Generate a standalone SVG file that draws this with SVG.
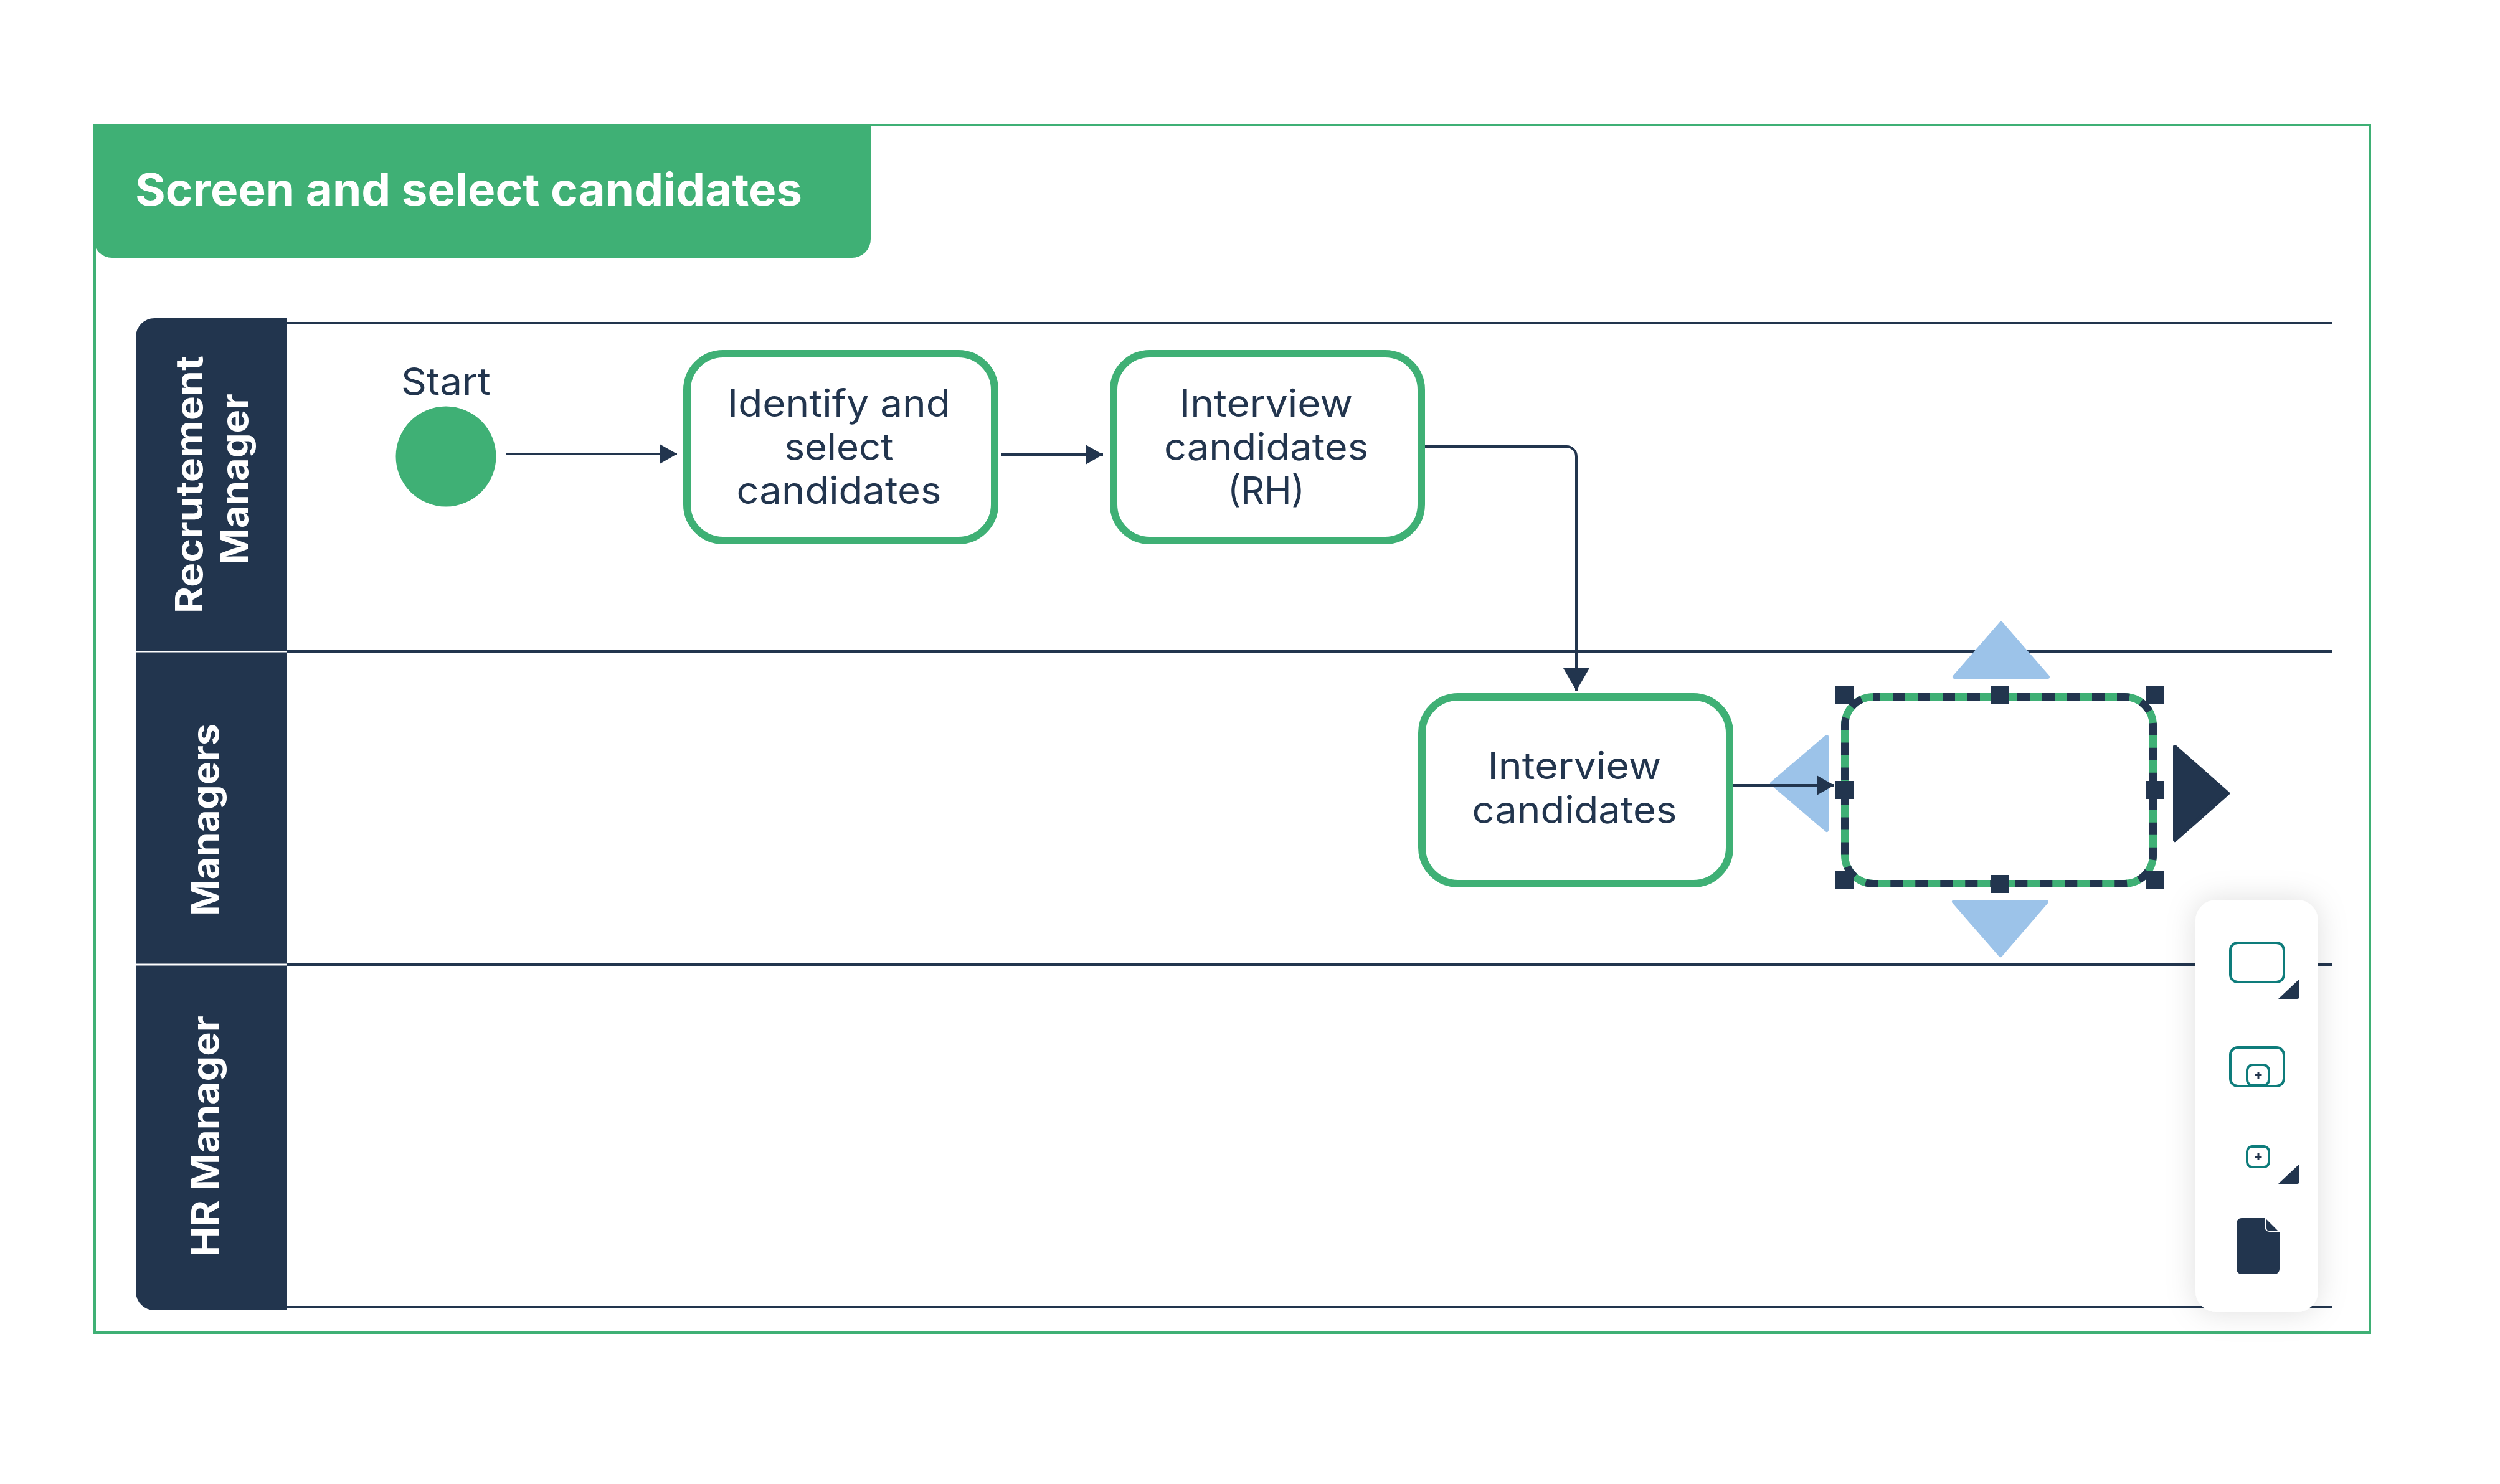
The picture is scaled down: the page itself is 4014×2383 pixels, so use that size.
<svg xmlns="http://www.w3.org/2000/svg" width="4014" height="2383" viewBox="0 0 4014 2383">
<defs>
<style>
text{font-family:"Inter","Open Sans","Liberation Sans",sans-serif}
.body{font-size:60px;fill:#22354E;text-anchor:middle;font-weight:400}
.lane{font-size:60px;fill:#fff;font-weight:700}
.lane-line{stroke:#22354E;stroke-width:4;fill:none}
.task{fill:#fff;stroke:#3FB075;stroke-width:12}
.conn{stroke:#22354E;stroke-width:4;fill:none}
.handle{fill:#22354E}
.blue{fill:#9CC3E9;stroke:#9CC3E9;stroke-width:6;stroke-linejoin:round}
.teal{fill:#fff;stroke:#0E7C7B;stroke-width:4}
.navy{fill:#22354E}
.plus{stroke:#22354E;stroke-width:3;fill:none}
</style>
<marker id="head" markerUnits="userSpaceOnUse" markerWidth="32" markerHeight="36" refX="28" refY="16" orient="auto" viewBox="0 0 32 36" overflow="visible"><path d="M0 0L28 16L0 32Z" fill="#22354E"/></marker>
<marker id="headBig" markerUnits="userSpaceOnUse" markerWidth="36" markerHeight="42" refX="36" refY="21" orient="auto" viewBox="0 0 36 42" overflow="visible"><path d="M0 0L36 21L0 42Z" fill="#22354E"/></marker>
<filter id="shadow" x="-40%" y="-20%" width="180%" height="140%"><feDropShadow dx="0" dy="0" stdDeviation="24" flood-color="#000" flood-opacity="0.13"/></filter>
</defs>
<rect width="4014" height="2383" fill="#fff"/>
<g id="frame"><rect x="152" y="201" width="3653" height="1939" fill="#fff" stroke="#3FB075" stroke-width="4"/></g>
<g id="title"><path d="M150 199H1398V384a30 30 0 0 1-30 30H180a30 30 0 0 1-30-30Z" fill="#3FB075"/>
<text x="217" y="330" font-size="72" font-weight="700" fill="#fff" textLength="1071" lengthAdjust="spacingAndGlyphs">Screen and select candidates</text></g>
<g id="lane-lines">
<path class="lane-line" d="M461 519H3745M461 1046H3745M461 1549H3745M461 2099H3745"/>
</g>
<g id="lane-recrutement"><path d="M461 511V1045H218V541a30 30 0 0 1 30-30Z" class="navy"/>
<text class="lane" transform="translate(325 985) rotate(-90)" textLength="414" lengthAdjust="spacingAndGlyphs">Recrutement</text>
<text class="lane" transform="translate(398 907) rotate(-90)" textLength="275" lengthAdjust="spacingAndGlyphs">Manager</text></g>
<g id="lane-managers"><rect x="218" y="1047.500" width="243" height="500" class="navy"/>
<text class="lane" transform="translate(351 1471) rotate(-90)" textLength="309" lengthAdjust="spacingAndGlyphs">Managers</text></g>
<g id="lane-hr"><path d="M218 1550.500H461V2104H248a30 30 0 0 1-30-30Z" class="navy"/>
<text class="lane" transform="translate(351 2018) rotate(-90)" textLength="387" lengthAdjust="spacingAndGlyphs">HR Manager</text></g>
<g id="start"><circle cx="716" cy="733" r="80.500" fill="#3FB075"/>
<text class="body" x="716" y="634" textLength="144" lengthAdjust="spacingAndGlyphs">Start</text></g>
<g id="task-identify"><rect class="task" x="1103" y="568" width="494" height="300" rx="58"/>
<text class="body" x="1347" y="669" textLength="358" lengthAdjust="spacingAndGlyphs">Identify and</text>
<text class="body" x="1347" y="739" textLength="175" lengthAdjust="spacingAndGlyphs">select</text>
<text class="body" x="1347" y="809" textLength="329" lengthAdjust="spacingAndGlyphs">candidates</text></g>
<g id="task-interview-rh"><rect class="task" x="1788" y="568" width="494" height="300" rx="58"/>
<text class="body" x="2033" y="669" textLength="278" lengthAdjust="spacingAndGlyphs">Interview</text>
<text class="body" x="2033" y="739" textLength="328" lengthAdjust="spacingAndGlyphs">candidates</text>
<text class="body" x="2033" y="809" textLength="124" lengthAdjust="spacingAndGlyphs">(RH)</text></g>
<g id="task-interview"><rect class="task" x="2283" y="1119" width="494" height="300" rx="58"/>
<text class="body" x="2528" y="1251" textLength="279" lengthAdjust="spacingAndGlyphs">Interview</text>
<text class="body" x="2528" y="1322" textLength="329" lengthAdjust="spacingAndGlyphs">candidates</text></g>
<g id="blue-left"><path class="blue" d="M2933 1183L2845 1258L2933 1333Z"/></g>
<g id="blue-top"><path class="blue" d="M3213 1001L3138 1087H3288Z"/></g>
<g id="blue-bottom"><path class="blue" d="M3137 1448H3286L3212 1534Z"/></g>
<g id="selected-task">
<rect x="2962" y="1119" width="495" height="300" rx="46" fill="#fff" stroke="#3FB075" stroke-width="12"/>
<rect x="2962" y="1119" width="495" height="300" rx="46" fill="none" stroke="#22354E" stroke-width="12" stroke-dasharray="20 20" stroke-dashoffset="9"/>
<rect class="handle" x="2947" y="1101" width="29" height="29"/>
<rect class="handle" x="3197" y="1101" width="29" height="29"/>
<rect class="handle" x="3445" y="1101" width="29" height="29"/>
<rect class="handle" x="2947" y="1254" width="29" height="29"/>
<rect class="handle" x="3445" y="1254" width="29" height="29"/>
<rect class="handle" x="2947" y="1398" width="29" height="29"/>
<rect class="handle" x="3197" y="1405" width="29" height="29"/>
<rect class="handle" x="3445" y="1398" width="29" height="29"/>
</g>
<g id="dark-right"><path d="M3492 1199L3577 1274L3492 1349Z" fill="#22354E" stroke="#22354E" stroke-width="6" stroke-linejoin="round"/></g>
<g id="connectors">
<path class="conn" d="M812 729H1087" marker-end="url(#head)"/>
<path class="conn" d="M1607 730H1771" marker-end="url(#head)"/>
<path class="conn" d="M2288 717H2515a16 16 0 0 1 16 16V1109" marker-end="url(#headBig)"/>
<path class="conn" d="M2782 1261H2945" marker-end="url(#head)"/>
</g>
<g id="panel"><rect x="3525" y="1445" width="197" height="662" rx="34" fill="#fff" filter="url(#shadow)"/>
<rect class="teal" x="3581" y="1514" width="86" height="63" rx="12"/>
<path class="navy" d="M3692 1572V1600a4 4 0 0 1-4 4H3658Z"/>
<rect class="teal" x="3581" y="1682" width="86" height="62" rx="12"/>
<rect class="teal" x="3608" y="1710" width="35" height="33" rx="9"/>
<path class="plus" d="M3620.500 1726.500H3631.500M3626 1721V1732"/>
<rect class="teal" x="3608" y="1841" width="35" height="33" rx="8"/>
<path class="plus" d="M3620.500 1857.500H3631.500M3626 1852V1863"/>
<path class="navy" d="M3692 1869V1897a4 4 0 0 1-4 4H3658Z"/>
<path class="navy" d="M3599 1956H3636V1970a8 8 0 0 0 8 8H3660V2038a8 8 0 0 1-8 8H3599a8 8 0 0 1-8-8V1964a8 8 0 0 1 8-8Z"/>
<path class="navy" d="M3639 1958L3658 1977H3644a5 5 0 0 1-5-5Z"/>
</g>
</svg>
